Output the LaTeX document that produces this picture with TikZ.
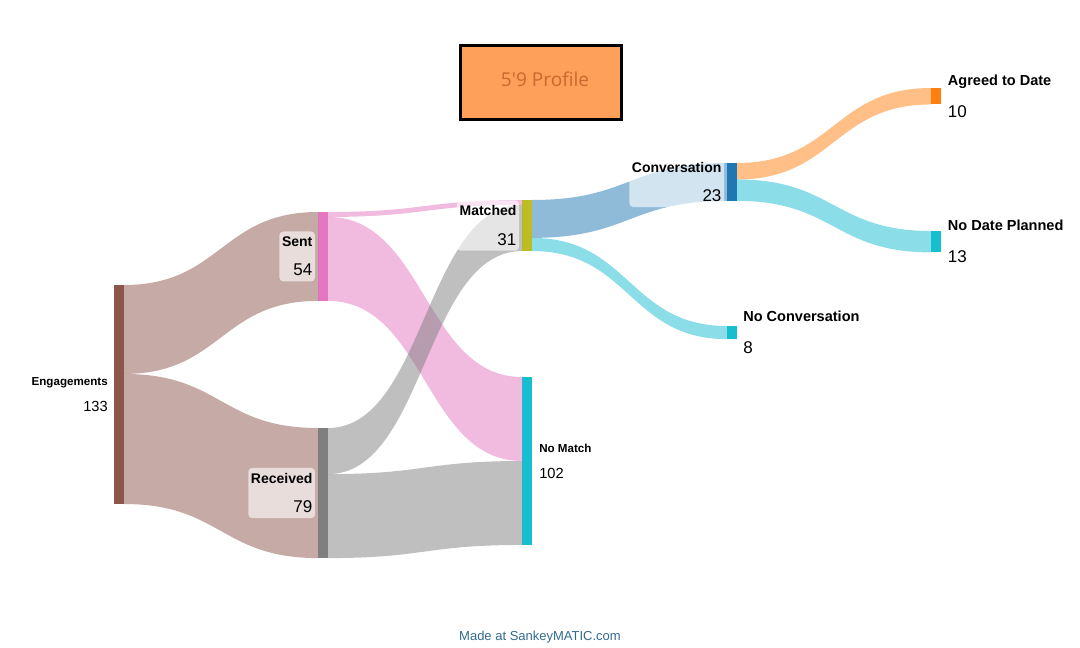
\documentclass[tikz,border=0pt]{standalone}
\usepackage{fontspec}
\setmainfont{Liberation Sans}
\newfontfamily\titlefont{Open Sans}[Ligatures=TeXOff]
\usepackage{tikz}
\usetikzlibrary{calc,positioning}

\definecolor{brn}{HTML}{8C564B}
\definecolor{pnk}{HTML}{E377C2}
\definecolor{gry}{HTML}{7F7F7F}
\definecolor{olv}{HTML}{BCBD22}
\definecolor{cyn}{HTML}{17BECF}
\definecolor{blu}{HTML}{1F77B4}
\definecolor{org}{HTML}{FF7F0E}
\definecolor{titlefill}{HTML}{FFA05A}
\definecolor{titletext}{HTML}{C8692F}
\definecolor{foot}{HTML}{336A8F}

\newcommand{\bignum}{\fontsize{12.75}{22}\selectfont\mdseries}
\newcommand{\midnum}{\fontsize{11}{20}\selectfont\mdseries}
\def\k{1.647}

% one band of the sankey: colour, source top, source bottom, target top, target bottom
\newcommand{\skflow}[5]{%
	\coordinate (fm) at ($(#2)!.5!(#4)$);
	\fill[#1,fill opacity=.5] (#2) .. controls (fm |- #2) and (fm |- #4) .. (#4)
		-- (#5) .. controls (fm |- #5) and (fm |- #3) .. (#3) -- cycle;
}

\begin{document}
\begin{tikzpicture}[x=.75pt,y=-.75pt,
	bar/.style={anchor=north west,inner sep=0pt,outer sep=0pt,minimum width=7.5pt,minimum height=#1*1.235pt},
	lbl/.style={font=\fontsize{10.5}{22}\selectfont\bfseries,fill=white,fill opacity=.6,text opacity=1,
		rounded corners=3pt,align=right,inner xsep=2pt,inner ysep=4pt},
	rlbl/.style={font=\fontsize{10.9}{24}\selectfont\bfseries,align=left,inner sep=0pt},
	slbl/.style={font=\fontsize{8.7}{19.5}\selectfont\bfseries,inner sep=0pt},
	titlebox/.style={draw=black,line width=2.2pt,fill=titlefill,minimum width=120.75pt,minimum height=55.5pt}]

	\useasboundingbox (0,0) rectangle (1080,648);

	\node[bar=133,fill=brn] (eng) at (114,285) {};
	\node[bar=54,fill=pnk] (sent) at (318,212) {};
	\node[bar=79,fill=gry] (recv) at (318,428) {};
	\node[bar=31,fill=olv] (match) at (522,200) {};
	\node[bar=102,fill=cyn] (nomatch) at (522,377) {};
	\node[bar=23,fill=blu] (conv) at (727,163) {};
	\node[bar=8,fill=cyn] (noconv) at (727,326) {};
	\node[bar=10,fill=org] (agreed) at (931,88) {};
	\node[bar=13,fill=cyn] (nodate) at (931,231) {};

	\coordinate (e1) at ($(eng.north east)+(0,54*\k)$);
	\coordinate (s1) at ($(sent.north east)+(0,3*\k)$);
	\coordinate (r1) at ($(recv.north east)+(0,28*\k)$);
	\coordinate (m1) at ($(match.north west)+(0,3*\k)$);
	\coordinate (m2) at ($(match.north east)+(0,23*\k)$);
	\coordinate (n1) at ($(nomatch.north west)+(0,51*\k)$);
	\coordinate (c1) at ($(conv.north east)+(0,10*\k)$);

	\skflow{brn}{eng.north east}{e1}{sent.north west}{sent.south west}
	\skflow{brn}{e1}{eng.south east}{recv.north west}{recv.south west}
	\skflow{pnk}{sent.north east}{s1}{match.north west}{m1}
	\skflow{pnk}{s1}{sent.south east}{nomatch.north west}{n1}
	\skflow{gry}{recv.north east}{r1}{m1}{match.south west}
	\skflow{gry}{r1}{recv.south east}{n1}{nomatch.south west}
	\skflow{blu}{match.north east}{m2}{conv.north west}{conv.south west}
	\skflow{cyn}{m2}{match.south east}{noconv.north west}{noconv.south west}
	\skflow{org}{conv.north east}{c1}{agreed.north west}{agreed.south west}
	\skflow{cyn}{c1}{conv.south east}{nodate.north west}{nodate.south west}

	\node[slbl,align=right,left=4.5pt of eng] (englbl) {Engagements\\{\midnum 133}};
	\node[lbl,left=2pt of sent] (sentlbl) {Sent\\{\bignum 54}};
	\node[lbl,left=2pt of recv] (recvlbl) {Received\\{\bignum 79}};
	\node[lbl,left=2pt of match] (matchlbl) {Matched\\{\bignum 31}};
	\node[lbl,left=2pt of conv] (convlbl) {Conversation\\{\bignum 23}};
	\node[slbl,align=left,right=5.25pt of nomatch] (nomatchlbl) {No Match\\{\midnum 102}};
	\node[rlbl,right=4.5pt of noconv] (noconvlbl) {No Conversation\\{\bignum 8}};
	\node[rlbl,right=5pt of agreed] (agreedlbl) {Agreed to Date\\{\bignum 10}};
	\node[rlbl,right=5pt of nodate] (nodatelbl) {No Date Planned\\{\bignum 13}};

	\node[titlebox] (title) at (541,82.5) {};
	\node[font=\titlefont\fontsize{14.3}{18}\selectfont,text=titletext] (titletxt) at (545,79) {5'9 Profile};
	\node[font=\fontsize{9.75}{12}\selectfont,text=foot] (credit) at (540,637) {Made at SankeyMATIC.com};

\end{tikzpicture}
\end{document}
